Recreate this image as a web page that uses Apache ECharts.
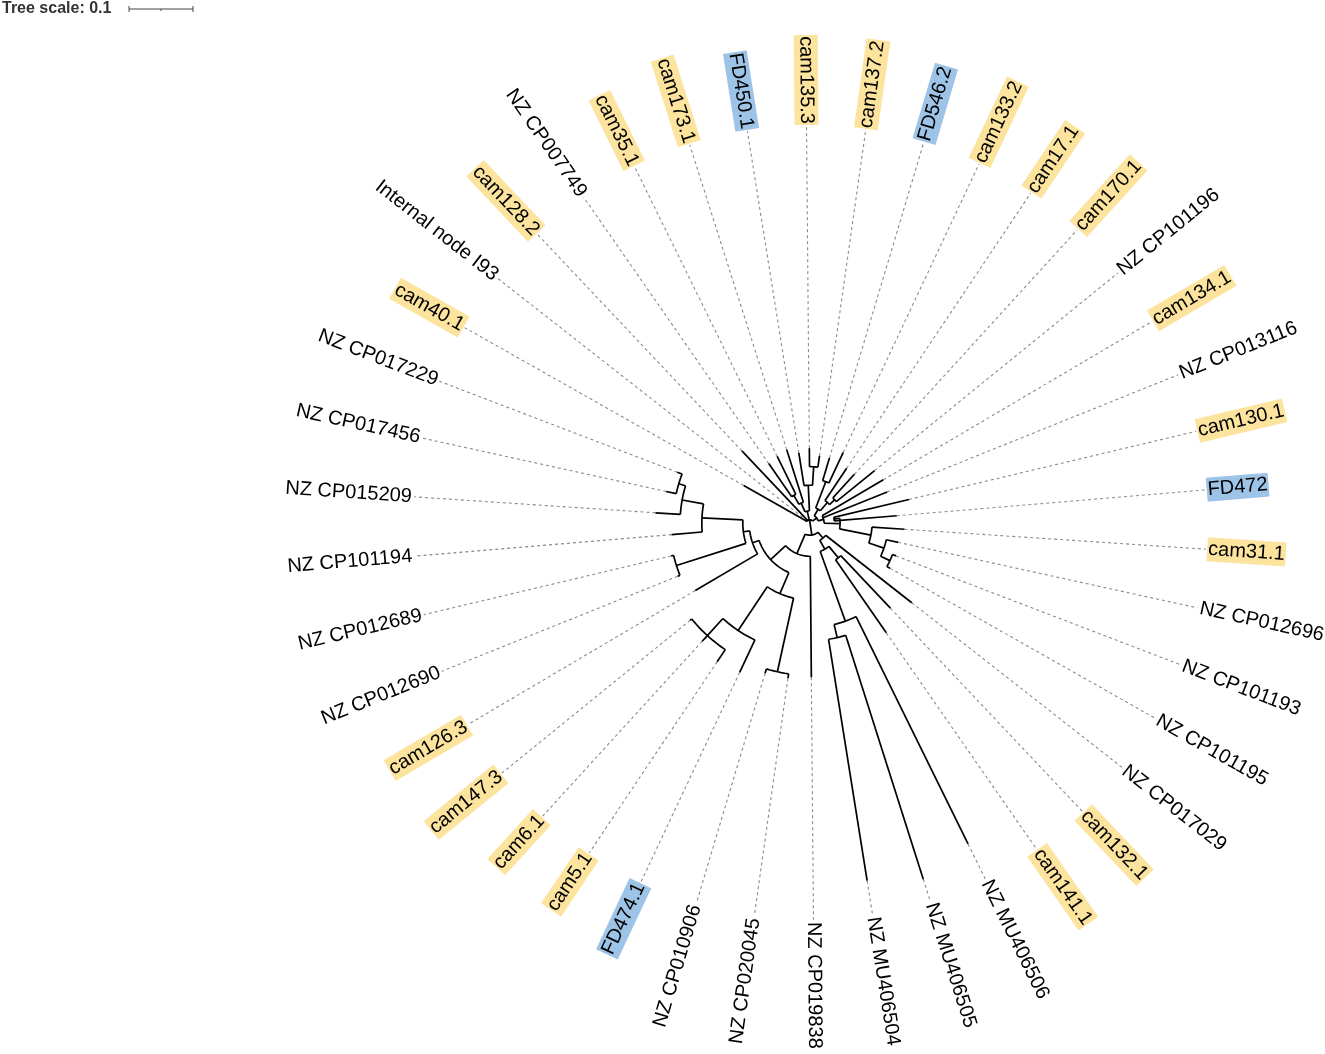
<!DOCTYPE html>
<html>
<head>
<meta charset="utf-8">
<title>Tree</title>
<script src="https://cdn.jsdelivr.net/npm/echarts@6/dist/echarts.min.js"></script>
<style>
  html, body { margin: 0; padding: 0; background: #fff; }
  #tree { width: 1325px; height: 1054px; }
</style>
</head>
<body>
<div id="tree"></div>
<script>
// leaves in drawing order (clockwise, starting at NZ CP017029)
const leafNames = [
    'NZ CP017029', 'cam132.1', 'cam141.1', 'NZ MU406506', 'NZ MU406505', 'NZ MU406504',
    'NZ CP019838', 'NZ CP020045', 'NZ CP010906', 'FD474.1', 'cam5.1', 'cam6.1',
    'cam147.3', 'cam126.3', 'NZ CP012690', 'NZ CP012689', 'NZ CP101194', 'NZ CP015209',
    'NZ CP017456', 'NZ CP017229', 'cam40.1', 'Internal node I93', 'cam128.2', 'NZ CP007749',
    'cam35.1', 'cam173.1', 'FD450.1', 'cam135.3', 'cam137.2', 'FD546.2',
    'cam133.2', 'cam17.1', 'cam170.1', 'NZ CP101196', 'cam134.1', 'NZ CP013116',
    'cam130.1', 'FD472', 'cam31.1', 'NZ CP012696', 'NZ CP101193', 'NZ CP101195'
];

// distance from root to each tip (tree units)
const leafDepth = [
    0.202, 0.183, 0.209, 0.559, 0.584, 0.566,
    0.241, 0.245, 0.245, 0.258, 0.261, 0.250,
    0.241, 0.208, 0.223, 0.223, 0.217, 0.242,
    0.230, 0.222, 0.119, 0.005, 0.155, 0.113,
    0.116, 0.120, 0.111, 0.117, 0.106, 0.106,
    0.122, 0.103, 0.103, 0.130, 0.133, 0.130,
    0.159, 0.136, 0.148, 0.141, 0.144, 0.144
];

// internal nodes: first leaf, last leaf, distance from root
const cladeFrom  = [1, 4, 3, 1, 0, 7, 10, 9, 7, 18, 17, 16, 14, 14, 13, 7, 6, 0,
                    23, 23, 27, 26, 23, 29, 32, 31, 29, 36, 40, 39, 38, 36, 34, 29, 20, 0];
const cladeTo    = [2, 5, 5, 5, 5, 8, 12, 12, 12, 19, 19, 19, 15, 19, 19, 19, 19, 19,
                    24, 25, 28, 28, 28, 30, 33, 33, 33, 37, 41, 41, 41, 41, 41, 41, 41, 41];
const cladeDepth = [0.070, 0.184, 0.163, 0.047, 0.031, 0.238, 0.238, 0.202, 0.120,
                    0.214, 0.203, 0.169, 0.219, 0.105, 0.095, 0.084, 0.052, 0.019,
                    0.050, 0.034, 0.088, 0.059, 0.019, 0.069, 0.053, 0.042, 0.025,
                    0.038, 0.138, 0.122, 0.097, 0.047, 0.022, 0.013, 0.005, 0];

const treeScale = 0.1;
const firstLeafAngle = 321.93;   // degrees, where leaf 0 sits
const maxDepth = 0.625;
const labelDepth = 0.622;

// build the node list
let nodes = [];
leafNames.forEach(function (name, i) {
    nodes.push({ from: i, to: i, depth: leafDepth[i], leaf: true, kids: [] });
});
cladeFrom.forEach(function (f, k) {
    nodes.push({ from: f, to: cladeTo[k], depth: cladeDepth[k], leaf: false, kids: [] });
});
nodes.forEach(function (n, idx) {
    let best = -1, bestSize = Infinity;
    nodes.forEach(function (m, j) {
        if (j === idx || m.leaf) return;
        let size = m.to - m.from;
        if (m.from <= n.from && m.to >= n.to && size > (n.to - n.from) && size < bestSize) {
            best = j;
            bestSize = size;
        }
    });
    n.parent = best < 0 ? null : best;
    if (best >= 0) nodes[best].kids.push(idx);
});
function nodeAngle(idx) {
    let n = nodes[idx];
    if (n.angle !== undefined) return n.angle;
    if (n.leaf) {
        n.angle = n.from;
    } else {
        n.kids.sort(function (a, b) { return nodes[a].from - nodes[b].from; });
        n.angle = (nodeAngle(n.kids[0]) + nodeAngle(n.kids[n.kids.length - 1])) / 2;
    }
    return n.angle;
}
nodes.forEach(function (n, idx) { nodeAngle(idx); });

function renderBranch(params, api) {
    let n = nodes[api.value(2)];
    let parts = [];
    let style = { stroke: '#000', lineWidth: 1.7, fill: 'none' };
    if (n.parent !== null) {
        let a = api.coord([nodes[n.parent].depth, n.angle]);
        let b = api.coord([n.depth, n.angle]);
        parts.push({ type: 'line', shape: { x1: a[0], y1: a[1], x2: b[0], y2: b[1] }, style: style });
    }
    if (n.kids.length) {
        let a0 = nodes[n.kids[0]].angle;
        let a1 = nodes[n.kids[n.kids.length - 1]].angle;
        let steps = Math.max(2, Math.ceil((a1 - a0) * 6));
        let pts = [];
        for (let s = 0; s <= steps; s++) {
            pts.push(api.coord([n.depth, a0 + (a1 - a0) * s / steps]));
        }
        parts.push({ type: 'polyline', shape: { points: pts }, style: style });
    }
    return { type: 'group', children: parts };
}

function renderDash(params, api) {
    let i = api.value(2);
    let a = api.coord([leafDepth[i], i]);
    let b = api.coord([labelDepth - 0.002, i]);
    return {
        type: 'line',
        shape: { x1: a[0], y1: a[1], x2: b[0], y2: b[1] },
        style: { stroke: '#8a8a8a', lineWidth: 1.1, lineDash: [3, 3] }
    };
}

function renderLabel(params, api) {
    let i = api.value(2);
    let name = leafNames[i];
    let c = api.coord([0, i]);
    let p = api.coord([labelDepth, i]);
    let deg = Math.atan2(c[1] - p[1], p[0] - c[0]) * 180 / Math.PI;
    let right = deg > -90 && deg <= 90;
    let rot = (right ? deg : deg + 180) * Math.PI / 180;
    let bg = null;
    if (name.indexOf('cam') === 0) bg = '#fce49f';
    if (name.indexOf('FD') === 0) bg = '#9dc3e6';
    return {
        type: 'text',
        x: p[0],
        y: p[1],
        rotation: rot,
        style: {
            text: name,
            font: '20px "Liberation Sans", Arial, sans-serif',
            fill: '#000',
            align: right ? 'left' : 'right',
            verticalAlign: 'middle',
            backgroundColor: bg,
            padding: [2, 1]
        }
    };
}

let chart = echarts.init(document.getElementById('tree'));
let option = {
    animation: false,
    backgroundColor: '#fff',
    polar: { center: [810, 523], radius: 400 },
    angleAxis: {
        type: 'value', min: 0, max: leafNames.length,
        startAngle: firstLeafAngle, clockwise: true, show: false
    },
    radiusAxis: { type: 'value', min: 0, max: maxDepth, show: false },
    series: [
        {
            type: 'custom', coordinateSystem: 'polar', silent: true,
            data: leafNames.map(function (n, i) { return [leafDepth[i], i, i]; }),
            renderItem: renderDash
        },
        {
            type: 'custom', coordinateSystem: 'polar', silent: true,
            data: nodes.map(function (n, i) { return [n.depth, n.angle, i]; }),
            renderItem: renderBranch
        },
        {
            type: 'custom', coordinateSystem: 'polar', silent: true,
            data: leafNames.map(function (n, i) { return [labelDepth, i, i]; }),
            renderItem: renderLabel
        }
    ]
};
chart.setOption(option);

// scale bar, length taken from the radius axis
let p0 = chart.convertToPixel({ seriesIndex: 1 }, [0, 0]);
let p1 = chart.convertToPixel({ seriesIndex: 1 }, [treeScale, 0]);
let barLen = Math.hypot(p1[0] - p0[0], p1[1] - p0[1]);
let bx = 129, by = 9;
chart.setOption({
    graphic: [
        {
            type: 'text', left: 2, top: 1,
            style: { text: 'Tree scale: ' + treeScale, font: 'bold 16px "Liberation Sans", Arial, sans-serif', fill: '#333' }
        },
        { type: 'line', shape: { x1: bx, y1: by, x2: bx + barLen, y2: by }, style: { stroke: '#444', lineWidth: 1 } },
        { type: 'line', shape: { x1: bx, y1: by - 3, x2: bx, y2: by + 3 }, style: { stroke: '#444', lineWidth: 1 } },
        { type: 'line', shape: { x1: bx + barLen, y1: by - 3, x2: bx + barLen, y2: by + 3 }, style: { stroke: '#444', lineWidth: 1 } },
        { type: 'line', shape: { x1: bx + barLen / 2, y1: by, x2: bx + barLen / 2, y2: by + 2 }, style: { stroke: '#444', lineWidth: 1 } }
    ]
});
</script>
</body>
</html>
